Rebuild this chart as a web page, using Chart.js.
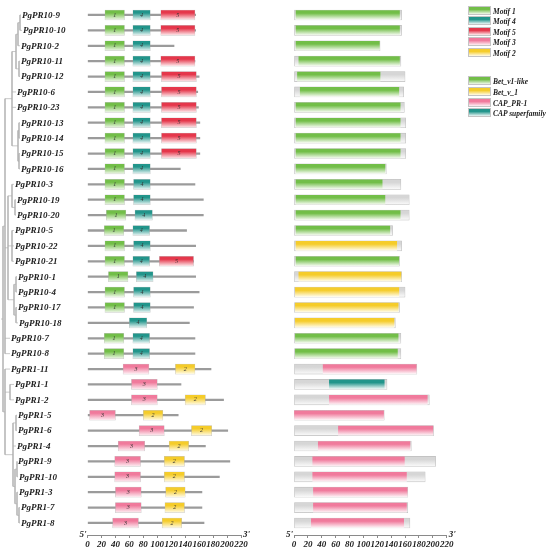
<!DOCTYPE html>
<html>
<head>
<meta charset="utf-8">
<title>PgPR motifs and domains</title>
<script src="https://cdn.jsdelivr.net/npm/chart.js"></script>
<style>
  body { margin: 0; background: #fff; }
  #wrap { position: relative; width: 550px; height: 554px; }
  #wrap canvas { position: absolute; left: 0; top: 0; }
  .key { position: absolute; left: 468px; height: 10px; line-height: 10px; font: italic bold 7.5px "Liberation Serif", serif; color: #222; white-space: nowrap; }
  .key span { display: inline-block; width: 21px; height: 7px; border: 0.5px solid #c4c4c4; margin-right: 2px; vertical-align: -1px; }
</style>
</head>
<body>
<div id="wrap">
  <canvas id="tree" width="550" height="554"></canvas>
  <canvas id="motifs" width="550" height="554"></canvas>
  <canvas id="domains" width="550" height="554"></canvas>
</div>
<script>
// ---- data ----
const genes = ['PgPR10-9','PgPR10-10','PgPR10-2','PgPR10-11','PgPR10-12','PgPR10-6','PgPR10-23','PgPR10-13',
  'PgPR10-14','PgPR10-15','PgPR10-16','PgPR10-3','PgPR10-19','PgPR10-20','PgPR10-5','PgPR10-22','PgPR10-21',
  'PgPR10-1','PgPR10-4','PgPR10-17','PgPR10-18','PgPR10-7','PgPR10-8','PgPR1-11','PgPR1-1','PgPR1-2','PgPR1-5',
  'PgPR1-6','PgPR1-4','PgPR1-9','PgPR1-10','PgPR1-3','PgPR1-7','PgPR1-8'];

const proteinLength = [155,155,124,154,160,158,159,161,161,161,133,154,166,166,142,155,152,155,160,152,146,154,154,
  177,134,195,130,201,169,204,189,164,164,167];

const motif1 = [[25,53],[25,53],[25,53],[25,53],[25,53],[25,53],[25,53],[25,53],[25,53],[25,53],[25,53],[25,53],
  [25,53],[27,55],[24,52],[25,53],[25,53],[30,58],[25,53],[25,53],null,[24,52],[24,52],
  null,null,null,null,null,null,null,null,null,null,null];
const motif4 = [[65,90],[65,90],[65,90],[65,90],[65,90],[65,90],[65,90],[65,90],[65,90],[65,90],[65,90],[66,90],
  [66,90],[68,93],[65,89],[66,90],[65,89],[70,94],[66,90],[66,90],[60,85],[65,89],[65,89],
  null,null,null,null,null,null,null,null,null,null,null];
const motif5 = [[105,154],[105,154],null,[105,154],[106,156],[106,156],[106,156],[106,156],[106,156],[106,156],
  null,null,null,null,null,null,[103,152],null,null,null,null,null,null,
  null,null,null,null,null,null,null,null,null,null,null];
const motif3 = [null,null,null,null,null,null,null,null,null,null,null,null,null,null,null,null,null,null,null,null,
  null,null,null,[51,88],[63,100],[63,100],[3,40],[74,110],[44,82],[39,76],[39,76],[40,77],[40,77],[36,73]];
const motif2 = [null,null,null,null,null,null,null,null,null,null,null,null,null,null,null,null,null,null,null,null,
  null,null,null,[126,154],null,[140,169],[80,108],[149,178],[117,145],[110,139],[110,139],[112,140],[111,139],[107,135]];

const domainName = ['Bet_v1-like','Bet_v1-like','Bet_v1-like','Bet_v1-like','Bet_v1-like','Bet_v1-like','Bet_v1-like',
  'Bet_v1-like','Bet_v1-like','Bet_v1-like','Bet_v1-like','Bet_v1-like','Bet_v1-like','Bet_v1-like','Bet_v1-like',
  'Bet_v_1','Bet_v1-like','Bet_v_1','Bet_v_1','Bet_v_1','Bet_v_1','Bet_v1-like','Bet_v1-like',
  'CAP_PR-1','CAP superfamily','CAP_PR-1','CAP_PR-1','CAP_PR-1','CAP_PR-1','CAP_PR-1','CAP_PR-1','CAP_PR-1',
  'CAP_PR-1','CAP_PR-1'];
const domainSpan = [[3,152],[3,152],[3,123],[7,152],[5,124],[9,151],[3,153],[3,153],[3,153],[3,153],[3,131],[3,127],
  [3,131],[3,153],[3,138],[3,148],[3,151],[7,154],[2,151],[2,150],[2,144],[2,150],[2,149],[42,176],[51,130],
  [51,192],[0,129],[64,200],[35,167],[27,159],[27,162],[28,163],[28,162],[25,158]];

// tree: [nodeDepth, ...children]; a number child is a row index
const tree = [3,
  [5,
    [12, [16, [18, [20, 0, 1], 2], [19, 3, 4]], 5, 6, [18, [19, 7, 8], [19, 9, 10]]],
    [8, [12, 11, [15, 12, 13]], [12, 14, 15, 16], [14, [16, 17, 18], [16, 19, 20]]],
    21, 22],
  [5, 23, [10, 24, 25], [13, [16, 26, 27], 28, [15, [17, 29, 30], [17, 31, [19, 32, 33]]]]]];
const labelX = [22,23,21,21,21,17,17,21,21,21,21,15,17,17,15,15,15,18,18,18,19,11,11,11,15,15,18,18,17,18,19,19,21,21];

const motifKeys = ['Motif 1','Motif 4','Motif 5','Motif 3','Motif 2'];
const domainKeys = ['Bet_v1-like','Bet_v_1','CAP_PR-1','CAP superfamily'];
const axisTicks = { min: 0, max: 220, step: 20 };

// ---- styles ----
const palette = {
  'Motif 1': ['#72be48', '#f1f8ec'], 'Motif 4': ['#22958b', '#ecf6f5'], 'Motif 5': ['#e5374b', '#fdeef0'],
  'Motif 3': ['#f07a9c', '#fdf0f4'], 'Motif 2': ['#f5cc2a', '#fffbe9'],
  'Bet_v1-like': ['#72be48', '#f1f8ec'], 'Bet_v_1': ['#f5cc2a', '#fffbe9'],
  'CAP_PR-1': ['#f07a9c', '#fdf0f4'], 'CAP superfamily': ['#22958b', '#ecf6f5'],
  'protein': ['#d6d6d6', '#fbfbfb']
};
const serif = '"Liberation Serif", "Times New Roman", serif';
const topPad = 4.2;
const yAxis = { type: 'linear', display: false, reverse: true, min: -0.7, max: 33.78, offset: false };

function shade(key, h) {
  const [top, bottom] = palette[key];
  return (ctx) => {
    const chart = ctx.chart;
    if (!chart.chartArea || ctx.type !== 'data') return top;
    const y = chart.scales.y.getPixelForValue(ctx.raw.y);
    const g = chart.ctx.createLinearGradient(0, y - h / 2, 0, y + h / 2);
    g.addColorStop(0, top);
    g.addColorStop(0.3, top);
    g.addColorStop(1, bottom);
    return g;
  };
}

function rowsOf(list) {
  const out = [];
  list.forEach((span, i) => { if (span) out.push({ x: span, y: i }); });
  return out;
}

function xAxis() {
  return {
    type: 'linear', min: axisTicks.min, max: axisTicks.max, offset: false,
    border: { color: '#8a8a8a', width: 1 },
    grid: { drawOnChartArea: false, tickLength: 3, color: '#8a8a8a' },
    ticks: { stepSize: axisTicks.step, autoSkip: false, maxRotation: 0, padding: 1,
      color: '#222', font: { family: serif, size: 9, style: 'italic', weight: 'bold' } },
    afterFit(scale) { scale.height = 19; }
  };
}

const boxNumbers = {
  id: 'boxNumbers',
  afterDatasetsDraw(chart) {
    const ctx = chart.ctx;
    ctx.save();
    ctx.font = 'italic 6px ' + serif;
    ctx.fillStyle = '#333';
    ctx.textAlign = 'center';
    ctx.textBaseline = 'middle';
    chart.data.datasets.forEach((ds, di) => {
      if (!ds.tag) return;
      chart.getDatasetMeta(di).data.forEach(bar => ctx.fillText(ds.tag, (bar.x + bar.base) / 2, bar.y));
    });
    ctx.restore();
  }
};

const primeEnds = {
  id: 'primeEnds',
  afterDraw(chart) {
    const ctx = chart.ctx, x = chart.scales.x;
    ctx.save();
    ctx.font = 'italic bold 9px ' + serif;
    ctx.fillStyle = '#222';
    ctx.textBaseline = 'alphabetic';
    ctx.textAlign = 'right';
    ctx.fillText("5'", x.left - 1, x.top + 2);
    ctx.textAlign = 'left';
    ctx.fillText("3'", x.right + 2, x.top + 2);
    ctx.restore();
  }
};

const common = {
  responsive: false, animation: false, events: [],
  plugins: { legend: { display: false }, tooltip: { enabled: false } }
};

// ---- tree ----
const segs = [];
const gap = { x: NaN, y: NaN };
function walk(node) {
  if (typeof node === 'number') return { x: labelX[node] - 1, y: node };
  const [depth, ...kids] = node;
  const pts = kids.map(walk);
  const y0 = pts[0].y, y1 = pts[pts.length - 1].y;
  segs.push({ x: depth, y: y0 }, { x: depth, y: y1 }, gap);
  pts.forEach(p => segs.push({ x: depth, y: p.y }, { x: p.x, y: p.y }, gap));
  return { x: depth, y: (y0 + y1) / 2 };
}
const rootPt = walk(tree);
segs.push({ x: 1, y: rootPt.y }, { x: rootPt.x, y: rootPt.y }, gap);

const leafLabels = {
  id: 'leafLabels',
  afterDatasetsDraw(chart) {
    const { ctx, scales: { x, y } } = chart;
    ctx.save();
    ctx.font = 'italic bold 9px ' + serif;
    ctx.fillStyle = '#222';
    ctx.textBaseline = 'middle';
    genes.forEach((g, i) => ctx.fillText(g, x.getPixelForValue(labelX[i]), y.getPixelForValue(i) + 0.5));
    ctx.restore();
  }
};

new Chart(document.getElementById('tree'), {
  type: 'scatter',
  data: { datasets: [{ data: segs, showLine: true, spanGaps: false, pointRadius: 0,
    borderColor: '#b0b0b0', borderWidth: 0.7 }] },
  options: Object.assign({}, common, {
    layout: { padding: { left: 0, right: 460, top: topPad, bottom: 19 } },
    scales: { x: { type: 'linear', display: false, min: 0, max: 90 }, y: yAxis }
  }),
  plugins: [leafLabels]
});

// ---- motif panel ----
const motifRows = { 'Motif 1': motif1, 'Motif 4': motif4, 'Motif 5': motif5, 'Motif 3': motif3, 'Motif 2': motif2 };
const motifSets = motifKeys.map(k => ({
  label: k, tag: k.slice(-1), data: rowsOf(motifRows[k]), grouped: false, order: 0,
  barThickness: 10, backgroundColor: shade(k, 10), borderColor: 'rgba(160,160,160,0.6)',
  borderWidth: 0.5, borderSkipped: false
}));
motifSets.push({
  label: 'protein', data: rowsOf(proteinLength.map(l => [0, l])), grouped: false, order: 1,
  barThickness: 1.6, backgroundColor: '#9b9b9b', borderWidth: 0
});

new Chart(document.getElementById('motifs'), {
  type: 'bar',
  data: { datasets: motifSets },
  options: Object.assign({}, common, {
    indexAxis: 'y',
    layout: { padding: { left: 87.5, right: 309, top: topPad, bottom: 0 } },
    scales: { x: xAxis(), y: yAxis }
  }),
  plugins: [boxNumbers, primeEnds]
});

// ---- domain panel ----
const domainSets = domainKeys.map(k => ({
  label: k, grouped: false, order: 0, barThickness: 9,
  data: rowsOf(domainSpan.map((s, i) => domainName[i] === k ? s : null)),
  backgroundColor: shade(k, 9), borderWidth: 0
}));
domainSets.push({
  label: 'protein', grouped: false, order: 1, barThickness: 10,
  data: rowsOf(proteinLength.map(l => [0, l])),
  backgroundColor: shade('protein', 10), borderColor: '#bdbdbd', borderWidth: 0.6, borderSkipped: false
});

new Chart(document.getElementById('domains'), {
  type: 'bar',
  data: { datasets: domainSets },
  options: Object.assign({}, common, {
    indexAxis: 'y',
    layout: { padding: { left: 294, right: 103.3, top: topPad, bottom: 0 } },
    scales: { x: xAxis(), y: yAxis }
  }),
  plugins: [primeEnds]
});

// ---- legends ----
const wrap = document.getElementById('wrap');
function addKey(name, top) {
  const [a, b] = palette[name];
  const d = document.createElement('div');
  d.className = 'key';
  d.style.top = top + 'px';
  d.innerHTML = '<span style="background:linear-gradient(' + a + ' 0%,' + a + ' 35%,' + b + ' 100%)"></span>' + name;
  wrap.appendChild(d);
}
motifKeys.forEach((k, i) => addKey(k, 5.5 + i * 10.6));
domainKeys.forEach((k, i) => addKey(k, 76 + i * 10.8));
</script>
</body>
</html>
